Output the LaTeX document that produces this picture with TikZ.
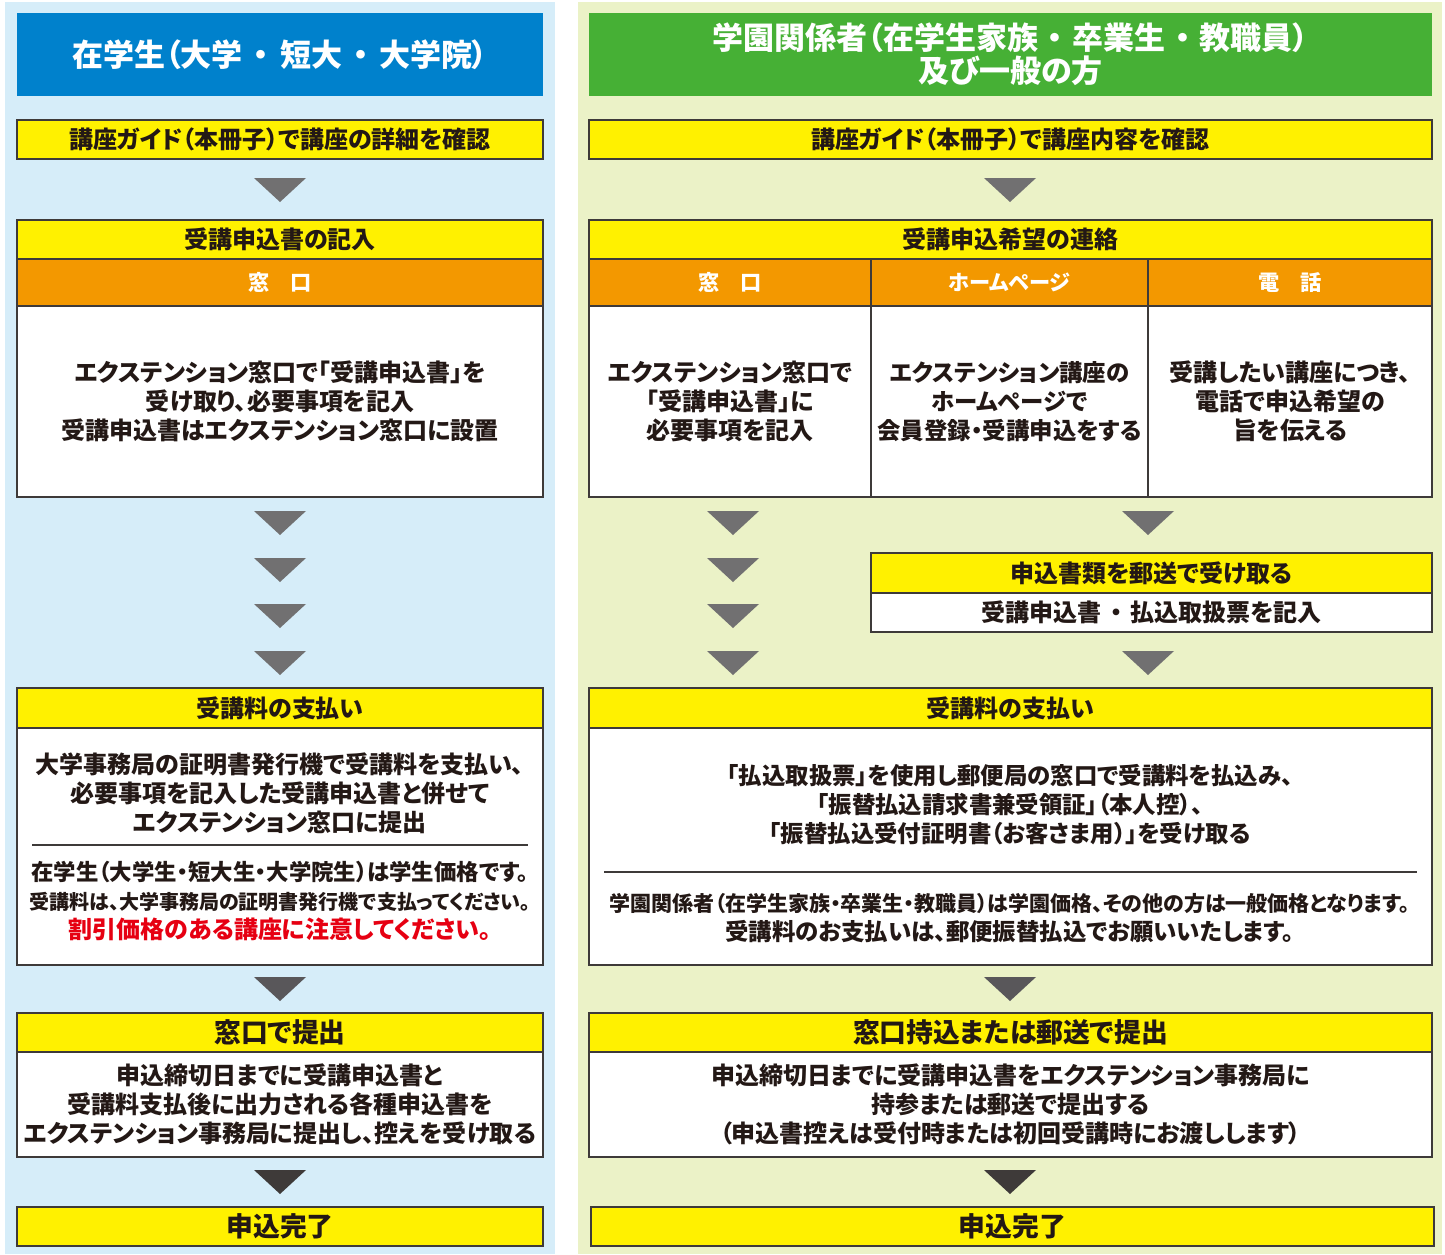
\documentclass[tikz,border=0pt]{standalone}
\usepackage{fontspec}
\setmainfont{Noto Sans CJK JP}[RawFeature=+palt]
\usetikzlibrary{positioning}
\definecolor{leftbg}{HTML}{D6EDF9}
\definecolor{rightbg}{HTML}{EBF2C7}
\definecolor{leftblue}{HTML}{0081CC}
\definecolor{rightgreen}{HTML}{46B035}
\definecolor{boxyellow}{HTML}{FFF100}
\definecolor{taborange}{HTML}{F39800}
\definecolor{inkline}{HTML}{3E3A39}
\definecolor{inktext}{HTML}{231815}
\definecolor{alertred}{HTML}{E60012}
\definecolor{arrowA}{HTML}{717071}
\definecolor{arrowB}{HTML}{59575A}
\definecolor{arrowC}{HTML}{3E3A39}
\newcommand\fsz[1]{\fontsize{#1}{14.5}\selectfont}
\tikzset{
every node/.style={align=center, inner sep=0pt, outer sep=0pt, text=inktext},
wh/.style 2 args={minimum width=#1*0.5pt, minimum height=#2*0.5pt},
box/.style={draw=inkline, line width=0.7pt, anchor=north west},
txt/.style={font=\bfseries\fsz{#1}},
txt/.default=12,
titlebox/.style={anchor=north west, text=white, font=\bfseries\fontsize{15.5}{16.5}\selectfont},
headbox/.style={box, fill=boxyellow, txt=12},
bighead/.style={box, fill=boxyellow, txt=13.4},
tabbox/.style={box, fill=taborange, text=white, txt=10.6},
textbox/.style={box, fill=white, txt},
rule/.style={draw=inkline, line width=0.7pt},
}

\begin{document}
\begin{tikzpicture}[x=0.5pt, y=-0.5pt]
\useasboundingbox (0,0) rectangle (1445,1254);
\fill[leftbg] (5,2) rectangle (555,1254);
\fill[rightbg] (578,2) rectangle (1442,1254);

% left column
\node[titlebox, fill=leftblue, wh={526}{83}] (ltitle) at (17,13) {在学生（大学\hspace{0.35em}・\hspace{0.35em}短大\hspace{0.35em}・\hspace{0.35em}大学院）};
\node[headbox, wh={526}{39}] (lguide) at (17,120) {講座ガイド（本冊子）で講座の詳細を確認};
\node[headbox, wh={526}{39}] (lform) at (17,220) {受講申込書の記入};
\node[tabbox, wh={526}{47}] (ltab) at (17,259) {窓　口};
\node[textbox, wh={526}{191}] (lwin) at (17,306) {エクステンション窓口で「受講申込書」を\\受け取り、必要事項を記入\\受講申込書はエクステンション窓口に設置};
\node[headbox, wh={526}{40}] (lpay) at (17,688) {受講料の支払い};
\node[textbox, wh={526}{237}] (lpaybody) at (17,728) {};
\node[txt] (lpaytop) at (280,793) {大学事務局の証明書発行機で受講料を支払い、\\必要事項を記入した受講申込書と併せて\\エクステンション窓口に提出};
\node[txt] (lpaynote) at (280,901) {{\fsz{11.2}在学生（大学生・短大生・大学院生）は学生価格です。}\\{\fsz{10}受講料は、大学事務局の証明書発行機で支払ってください。}\\{\color{alertred}\fsz{12}割引価格のある講座に注意してください。}};
\draw[rule] (32,845) -- (528,845);
\node[bighead, wh={526}{39}] (lsub) at (17,1013) {窓口で提出};
\node[textbox, wh={526}{105}] (lsubbody) at (17,1052) {申込締切日までに受講申込書と\\受講料支払後に出力される各種申込書を\\エクステンション事務局に提出し、控えを受け取る};
\node[bighead, wh={526}{39}] (ldone) at (17,1207) {申込完了};

% right column
\node[titlebox, fill=rightgreen, wh={843}{83}] (rtitle) at (589,13) {学園関係者（在学生家族\hspace{0.3em}・\hspace{0.3em}卒業生\hspace{0.3em}・\hspace{0.3em}教職員）\\及び一般の方};
\node[headbox, wh={843}{39}] (rguide) at (589,120) {講座ガイド（本冊子）で講座内容を確認};
\node[headbox, wh={843}{39}] (rform) at (589,220) {受講申込希望の連絡};
\node[tabbox, wh={282}{47}] (rtab1) at (589,259) {窓　口};
\node[tabbox, wh={277}{47}] (rtab2) at (871,259) {ホームページ};
\node[tabbox, wh={284}{47}] (rtab3) at (1148,259) {電　話};
\node[textbox, wh={282}{191}] (rwin) at (589,306) {エクステンション窓口で\\「受講申込書」に\\必要事項を記入};
\node[textbox, wh={277}{191}, txt=11.7] (rweb) at (871,306) {エクステンション講座の\\ホームページで\\会員登録・受講申込をする};
\node[textbox, wh={284}{191}] (rtel) at (1148,306) {受講したい講座につき、\\電話で申込希望の\\旨を伝える};
\node[headbox, wh={561}{40}] (rmail) at (871,553) {申込書類を郵送で受け取る};
\node[textbox, wh={561}{39}] (rmailbody) at (871,593) {受講申込書\hspace{0.35em}・\hspace{0.35em}払込取扱票を記入};
\node[headbox, wh={843}{40}] (rpay) at (589,688) {受講料の支払い};
\node[textbox, wh={843}{237}] (rpaybody) at (589,728) {};
\node[txt=11.7] (rpaytop) at (1010,805) {「払込取扱票」を使用し郵便局の窓口で受講料を払込み、\\「振替払込請求書兼受領証」（本人控）、\\「振替払込受付証明書（お客さま用）」を受け取る};
\node[txt] (rpaynote) at (1010,918) {{\fsz{10.5}学園関係者（在学生家族・卒業生・教職員）は学園価格、その他の方は一般価格となります。}\\{\fsz{11.7}受講料のお支払いは、郵便振替払込でお願いいたします。}};
\draw[rule] (604,872) -- (1417,872);
\node[bighead, wh={843}{39}] (rsub) at (589,1013) {窓口持込または郵送で提出};
\node[textbox, wh={843}{105}] (rsubbody) at (589,1052) {申込締切日までに受講申込書をエクステンション事務局に\\持参または郵送で提出する\\（申込書控えは受付時または初回受講時にお渡しします）};
\node[bighead, wh={843}{39}] (rdone) at (591,1207) {申込完了};

% step arrows
\foreach \x/\y/\c in {280/178/arrowA, 280/511/arrowA, 280/558/arrowA, 280/604/arrowA,
  280/651/arrowA, 280/977/arrowB, 280/1170/arrowC,
  1010/178/arrowA, 733/511/arrowA, 733/558/arrowA, 733/604/arrowA, 733/651/arrowA,
  1148/511/arrowA, 1148/651/arrowA, 1010/977/arrowB, 1010/1170/arrowC}
  \fill[\c] (\x-26,\y) -- (\x+26,\y) -- (\x,\y+24) -- cycle;
\end{tikzpicture}
\end{document}
